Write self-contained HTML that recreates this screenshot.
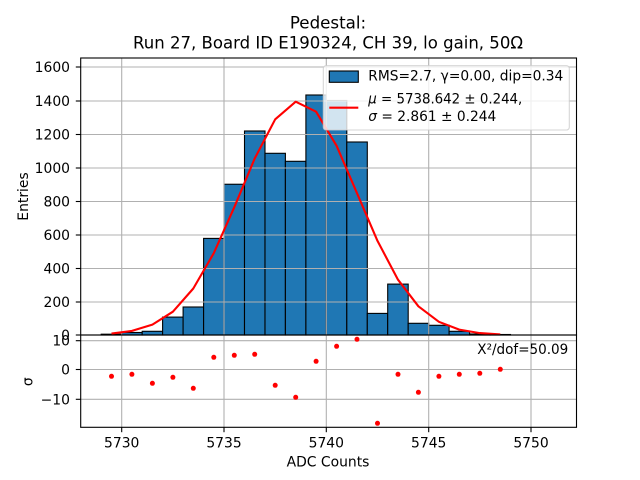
<!DOCTYPE html>
<html><head><meta charset="utf-8"><style>
html,body{margin:0;padding:0;background:#fff;}
svg{display:block;}
text{font-family:"DejaVu Sans","Liberation Sans",sans-serif;fill:#000;}
</style></head><body>
<svg width="640" height="480" viewBox="0 0 640 480" xmlns="http://www.w3.org/2000/svg">
<rect x="0" y="0" width="640" height="480" fill="#fff"/>
<!-- Title -->
<text x="328" y="28.3" font-size="16.7" text-anchor="middle">Pedestal:</text>
<text x="328" y="48.3" font-size="16.7" text-anchor="middle" textLength="390" lengthAdjust="spacingAndGlyphs">Run 27, Board ID E190324, CH 39, lo gain, 50Ω</text>

<!-- Histogram bars -->
<g fill="#1f77b4" stroke="#000" stroke-width="1.1">
<rect x="101.2" y="334.2" width="20.5" height="0.8"/>
<rect x="121.7" y="332.5" width="20.5" height="2.5"/>
<rect x="142.2" y="331.3" width="20.4" height="3.7"/>
<rect x="162.6" y="317.1" width="20.5" height="17.9"/>
<rect x="183.1" y="307.0" width="20.5" height="28.0"/>
<rect x="203.6" y="238.4" width="20.4" height="96.6"/>
<rect x="224.0" y="184.25" width="20.5" height="150.75"/>
<rect x="244.5" y="131.0" width="20.5" height="204.0"/>
<rect x="265.0" y="153.3" width="20.4" height="181.7"/>
<rect x="285.4" y="161.3" width="20.5" height="173.7"/>
<rect x="305.9" y="95.0" width="20.4" height="240.0"/>
<rect x="326.3" y="100.5" width="20.5" height="234.5"/>
<rect x="346.8" y="142.0" width="20.5" height="193.0"/>
<rect x="367.3" y="313.4" width="20.4" height="21.6"/>
<rect x="387.7" y="284.1" width="20.5" height="50.9"/>
<rect x="408.2" y="323.3" width="20.5" height="11.7"/>
<rect x="428.7" y="325.3" width="20.4" height="9.7"/>
<rect x="449.1" y="331.3" width="20.5" height="3.7"/>
<rect x="469.6" y="334.0" width="20.5" height="1.0"/>
<rect x="490.1" y="334.5" width="20.4" height="0.5"/>
</g>

<!-- Grid main -->
<g stroke="#b0b0b0" stroke-width="1.1">
<line x1="121.7" y1="58" x2="121.7" y2="335"/>
<line x1="224.0" y1="58" x2="224.0" y2="335"/>
<line x1="326.3" y1="58" x2="326.3" y2="335"/>
<line x1="428.7" y1="58" x2="428.7" y2="335"/>
<line x1="531.0" y1="58" x2="531.0" y2="335"/>
<line x1="80.7" y1="67" x2="576.5" y2="67"/>
<line x1="80.7" y1="101" x2="576.5" y2="101"/>
<line x1="80.7" y1="134.5" x2="576.5" y2="134.5"/>
<line x1="80.7" y1="168" x2="576.5" y2="168"/>
<line x1="80.7" y1="201.5" x2="576.5" y2="201.5"/>
<line x1="80.7" y1="235" x2="576.5" y2="235"/>
<line x1="80.7" y1="268.5" x2="576.5" y2="268.5"/>
<line x1="80.7" y1="302" x2="576.5" y2="302"/>
</g>

<!-- Fit curve -->
<polyline fill="none" stroke="#ff0000" stroke-width="2.1" stroke-linejoin="round" points="111.5,333.6 131.9,330.9 152.4,324.6 172.9,311.7 193.3,288.5 213.8,253.1 234.3,207.2 254.7,158.5 275.2,119.3 295.7,101.7 316.1,111.7 336.6,145.8 357.0,193.2 377.5,240.9 398.0,279.7 418.4,306.3 438.9,321.8 459.3,329.6 479.8,333.1 500.3,334.4"/>

<!-- Legend -->
<rect x="323.3" y="65.7" width="246" height="64.3" rx="2.8" ry="2.8" fill="#fff" fill-opacity="0.8" stroke="#cccccc" stroke-opacity="0.8" stroke-width="1.1"/>
<rect x="329.3" y="71" width="29" height="11.3" fill="#1f77b4" stroke="#000" stroke-width="1.1"/>
<line x1="329.3" y1="107.7" x2="358.3" y2="107.7" stroke="#ff0000" stroke-width="2.1"/>
<text x="368.3" y="80.7" font-size="13.9" textLength="195" lengthAdjust="spacingAndGlyphs">RMS=2.7, γ=0.00, dip=0.34</text>
<text x="368.3" y="103.3" font-size="13.9" textLength="154" lengthAdjust="spacingAndGlyphs"><tspan font-style="italic">μ</tspan> = 5738.642 ± 0.244,</text>
<text x="368.3" y="121" font-size="13.9" textLength="128" lengthAdjust="spacingAndGlyphs"><tspan font-style="italic">σ</tspan> = 2.861 ± 0.244</text>

<!-- Main spines -->
<rect x="80.7" y="58" width="495.8" height="277" fill="none" stroke="#000" stroke-width="1.1"/>

<!-- Main y ticks -->
<g stroke="#000" stroke-width="1.1">
<line x1="75.8" y1="67" x2="80.7" y2="67"/>
<line x1="75.8" y1="101" x2="80.7" y2="101"/>
<line x1="75.8" y1="134.5" x2="80.7" y2="134.5"/>
<line x1="75.8" y1="168" x2="80.7" y2="168"/>
<line x1="75.8" y1="201.5" x2="80.7" y2="201.5"/>
<line x1="75.8" y1="235" x2="80.7" y2="235"/>
<line x1="75.8" y1="268.5" x2="80.7" y2="268.5"/>
<line x1="75.8" y1="302" x2="80.7" y2="302"/>
<line x1="75.8" y1="335" x2="80.7" y2="335"/>
</g>
<g font-size="13.9" text-anchor="end">
<text x="70" y="72">1600</text>
<text x="70" y="106">1400</text>
<text x="70" y="139.5">1200</text>
<text x="70" y="173">1000</text>
<text x="70" y="206.5">800</text>
<text x="70" y="240">600</text>
<text x="70" y="273.5">400</text>
<text x="70" y="307">200</text>
<text x="70" y="340">0</text>
</g>
<text transform="translate(28,196.5) rotate(-90)" font-size="13.9" text-anchor="middle">Entries</text>

<!-- Residual grid -->
<g stroke="#b0b0b0" stroke-width="1.1">
<line x1="121.7" y1="335" x2="121.7" y2="427.3"/>
<line x1="224.0" y1="335" x2="224.0" y2="427.3"/>
<line x1="326.3" y1="335" x2="326.3" y2="427.3"/>
<line x1="428.7" y1="335" x2="428.7" y2="427.3"/>
<line x1="531.0" y1="335" x2="531.0" y2="427.3"/>
<line x1="80.7" y1="340.7" x2="576.5" y2="340.7"/>
<line x1="80.7" y1="369.5" x2="576.5" y2="369.5"/>
<line x1="80.7" y1="399.3" x2="576.5" y2="399.3"/>
</g>

<!-- Residual points -->
<g fill="#ff0000">
<circle cx="111.5" cy="376.3" r="2.5"/>
<circle cx="131.9" cy="374.3" r="2.5"/>
<circle cx="152.4" cy="383.3" r="2.5"/>
<circle cx="172.9" cy="377.3" r="2.5"/>
<circle cx="193.3" cy="388.3" r="2.5"/>
<circle cx="213.8" cy="357.3" r="2.5"/>
<circle cx="234.3" cy="355.3" r="2.5"/>
<circle cx="254.7" cy="354.3" r="2.5"/>
<circle cx="275.2" cy="385.3" r="2.5"/>
<circle cx="295.7" cy="397.3" r="2.5"/>
<circle cx="316.1" cy="361.3" r="2.5"/>
<circle cx="336.6" cy="346.3" r="2.5"/>
<circle cx="357.0" cy="339.3" r="2.5"/>
<circle cx="377.5" cy="423.3" r="2.5"/>
<circle cx="398.0" cy="374.3" r="2.5"/>
<circle cx="418.4" cy="392.3" r="2.5"/>
<circle cx="438.9" cy="376.3" r="2.5"/>
<circle cx="459.3" cy="374.3" r="2.5"/>
<circle cx="479.8" cy="373.3" r="2.5"/>
<circle cx="500.3" cy="369.3" r="2.5"/>
</g>

<text x="568.3" y="354" font-size="13.9" text-anchor="end" textLength="91" lengthAdjust="spacingAndGlyphs">X²/dof=50.09</text>

<!-- Residual spines -->
<rect x="80.7" y="335" width="495.8" height="92.3" fill="none" stroke="#000" stroke-width="1.1"/>

<!-- Residual ticks -->
<g stroke="#000" stroke-width="1.1">
<line x1="75.8" y1="340.7" x2="80.7" y2="340.7"/>
<line x1="75.8" y1="369.5" x2="80.7" y2="369.5"/>
<line x1="75.8" y1="399.3" x2="80.7" y2="399.3"/>
<line x1="121.7" y1="427.3" x2="121.7" y2="432.2"/>
<line x1="224.0" y1="427.3" x2="224.0" y2="432.2"/>
<line x1="326.3" y1="427.3" x2="326.3" y2="432.2"/>
<line x1="428.7" y1="427.3" x2="428.7" y2="432.2"/>
<line x1="531.0" y1="427.3" x2="531.0" y2="432.2"/>
</g>
<g font-size="13.9" text-anchor="end">
<text x="70" y="345.7">10</text>
<text x="70" y="374.5">0</text>
<text x="70" y="404.3">−10</text>
</g>
<g font-size="13.9" text-anchor="middle">
<text x="121.7" y="447.5">5730</text>
<text x="224.0" y="447.5">5735</text>
<text x="326.3" y="447.5">5740</text>
<text x="428.7" y="447.5">5745</text>
<text x="531.0" y="447.5">5750</text>
</g>
<text x="328" y="466.7" font-size="13.9" text-anchor="middle">ADC Counts</text>
<text transform="translate(32.3,381.7) rotate(-90)" font-size="13.9" text-anchor="middle">σ</text>
</svg>
</body></html>
